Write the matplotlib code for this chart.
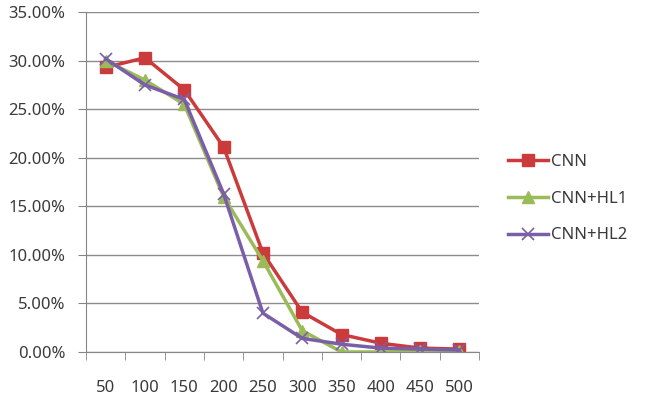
import matplotlib
matplotlib.use('Agg')
import matplotlib.pyplot as plt
import numpy as np
from matplotlib.ticker import FuncFormatter

plt.rcParams['font.family'] = ['Noto Sans', 'DejaVu Sans']

sizes = [50, 100, 150, 200, 250, 300, 350, 400, 450, 500]
cnn = [29.3, 30.3, 27.0, 21.1, 10.2, 4.1, 1.8, 0.9, 0.4, 0.3]
cnn_hl1 = [30.0, 28.0, 25.5, 16.0, 9.4, 2.2, 0.0, 0.0, 0.1, 0.1]
cnn_hl2 = [30.2, 27.5, 26.0, 16.3, 4.0, 1.4, 0.8, 0.4, 0.3, 0.2]
labels = ['CNN', 'CNN+HL1', 'CNN+HL2']

fig = plt.figure(figsize=(6.59, 4.03), dpi=100)
ax = fig.add_axes([0.1305, 0.1266, 0.5965, 0.8434])

x = np.arange(len(sizes))
ax.plot(x, cnn, '-', color='#CC3B3B', linewidth=2.5, marker='s', markersize=8, label=labels[0])
ax.plot(x, cnn_hl1, '-', color='#9BBB59', linewidth=2.5, marker='^', markersize=8, label=labels[1])
ax.plot(x, cnn_hl2, '-', color='#7A5FA8', linewidth=2.5, marker='x', markersize=8,
        markeredgewidth=1.2, label=labels[2])

ax.set_xlim(-0.5, len(sizes) - 0.5)
ax.set_ylim(0, 35)
ax.set_yticks(np.arange(0, 36, 5))
ax.yaxis.set_major_formatter(FuncFormatter(lambda v, p: '%.2f%%' % v))
ax.set_xticks(x)
ax.set_xticklabels([str(s) for s in sizes])
ax.set_xticks(np.arange(-0.5, len(sizes), 1), minor=True)
ax.tick_params(axis='x', which='major', length=0, pad=20)
ax.tick_params(axis='x', which='minor', length=6, color='#868686', direction='out')
ax.tick_params(axis='y', length=6, color='#868686', direction='out', pad=9)
ax.tick_params(labelsize=12, labelcolor='#3a3a3a')

ax.grid(axis='y', color='#8c8c8c', linewidth=1)
ax.set_axisbelow(True)
for side in ['top', 'right']:
    ax.spines[side].set_visible(False)
ax.spines['left'].set_color('#868686')
ax.spines['bottom'].set_color('#868686')

leg = ax.legend(loc='center left', bbox_to_anchor=(508 / 659, 1 - 198.5 / 403),
                bbox_transform=fig.transFigure, frameon=False, borderpad=0,
                borderaxespad=0, fontsize=12, labelspacing=1.25,
                handlelength=2.4, handletextpad=0.15)
for t in leg.get_texts():
    t.set_color('#3a3a3a')

fig.savefig('out.png', dpi=100)
